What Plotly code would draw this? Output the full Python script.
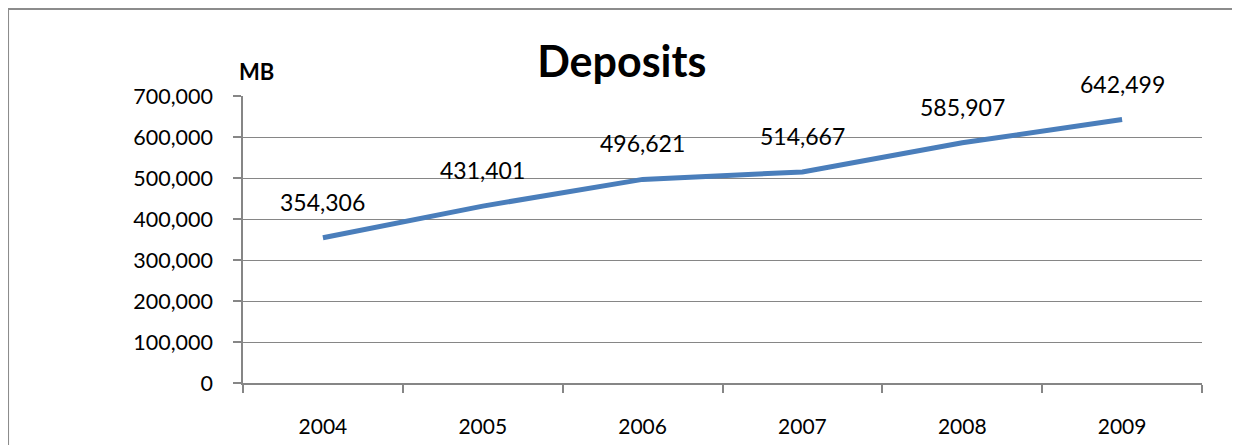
import plotly.graph_objects as go

# chart data
YEARS = ['2004', '2005', '2006', '2007', '2008', '2009']
DEPOSITS = [354306, 431401, 496621, 514667, 585907, 642499]
Y_TICKS = [0, 100000, 200000, 300000, 400000, 500000, 600000, 700000]

FONT = 'Lato, Open Sans, sans-serif'
GRID = '#868686'

fig = go.Figure()
fig.add_trace(go.Scatter(
    x=YEARS, y=DEPOSITS, mode='lines',
    line=dict(color='#4A7EBB', width=5),
    hoverinfo='x+y',
))

# data labels above each point (category index as x)
for i, val in enumerate(DEPOSITS):
    fig.add_annotation(
        x=i, y=val, text=f'{val:,}', showarrow=False,
        yshift=36, font=dict(family=FONT, size=23, color='#000000'),
    )

# unit label
fig.add_annotation(
    xref='paper', yref='paper', x=0, y=1.084, xshift=-6,
    xanchor='left', yanchor='middle', text='<b>MB</b>', showarrow=False,
    font=dict(family=FONT, size=22, color='#000000'),
)

# chart border
fig.add_shape(
    type='rect', xref='paper', yref='paper',
    x0=-0.245, x1=1.0396, y0=-0.4, y1=1.303,
    line=dict(color='#8C8C8C', width=2), layer='below',
)

fig.update_layout(
    width=1240, height=445,
    margin=dict(l=235, r=46, t=88, b=70),
    paper_bgcolor='white', plot_bgcolor='white',
    showlegend=False,
    title=dict(text='<b>Deposits</b>', x=0.495, xanchor='center',
               y=0.879, yanchor='middle',
               font=dict(family=FONT, size=43, color='#000000')),
    font=dict(family=FONT, size=21, color='#000000'),
)

fig.update_xaxes(
    type='category', range=[-0.5, 5.5],
    showline=True, linecolor=GRID, linewidth=1.5,
    ticks='outside', tickson='boundaries', ticklen=8, tickcolor=GRID,
    tickwidth=1.5, showgrid=False, ticklabelstandoff=24,
    tickfont=dict(family=FONT, size=21),
)
fig.update_yaxes(
    range=[0, 700000], tickvals=Y_TICKS, tickformat=',',
    showline=True, linecolor=GRID, linewidth=1.5,
    ticks='outside', ticklen=8, tickcolor=GRID, tickwidth=1.5,
    showgrid=True, gridcolor=GRID, gridwidth=1.2, zeroline=False,
    ticklabelstandoff=16,
    tickfont=dict(family=FONT, size=21.5),
)

fig.write_html('out.html')
